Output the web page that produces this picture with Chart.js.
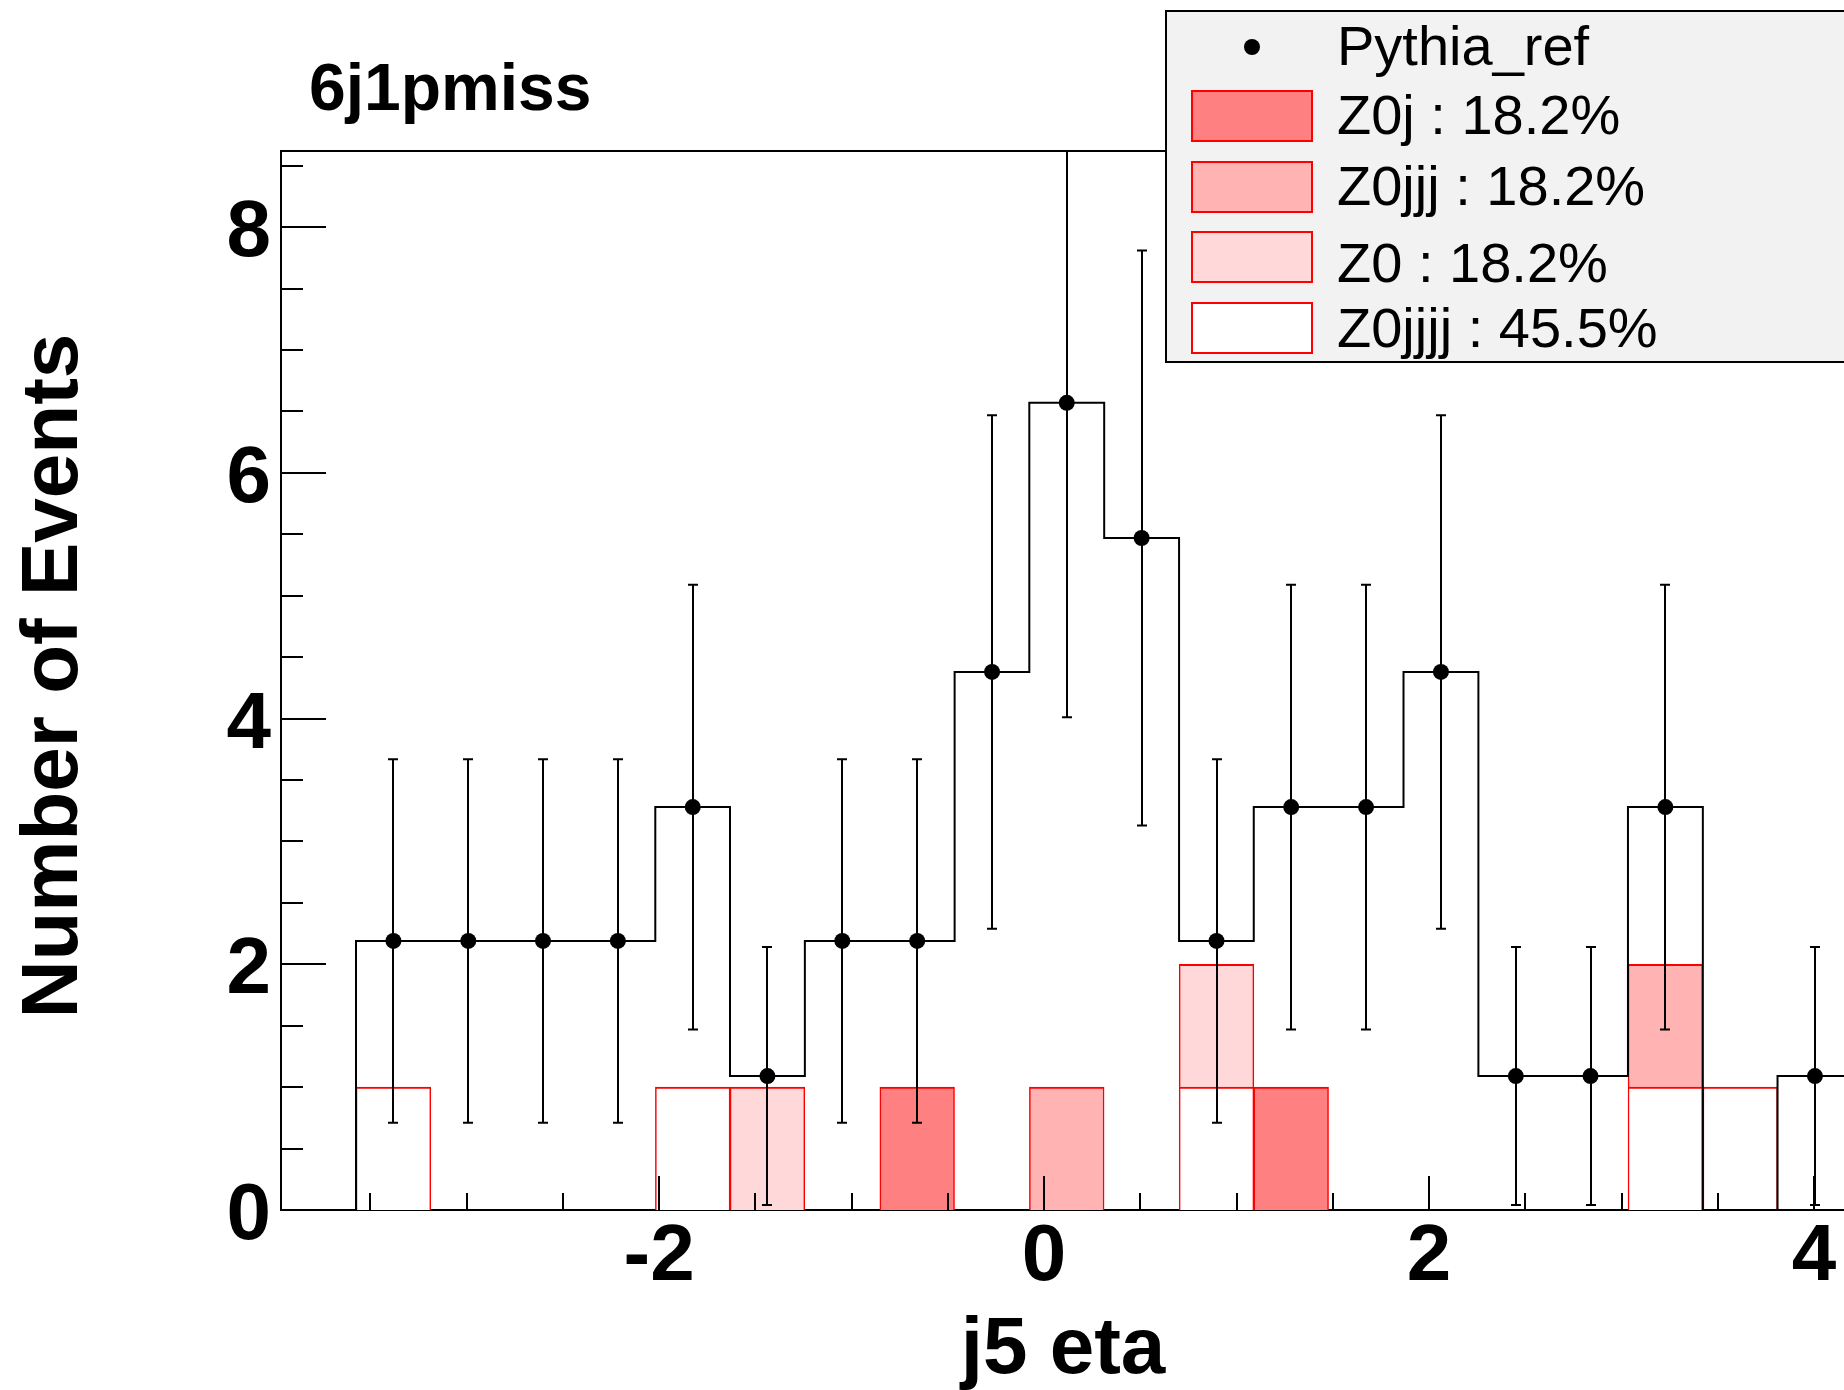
<!DOCTYPE html>
<html>
<head>
<meta charset="utf-8">
<title>j5 eta - 6j1pmiss</title>
<script src="https://cdn.jsdelivr.net/npm/chart.js@4.4.1/dist/chart.umd.min.js"></script>
<style>
  html, body { margin: 0; padding: 0; background: #fff; overflow: hidden; }
  #wrap { width: 1844px; height: 1390px; overflow: hidden; }
  canvas { display: block; }
</style>
</head>
<body>
<div id="wrap"><canvas id="histo" width="1900" height="1390"></canvas></div>
<script>
// ===============================
// DATA
// ===============================

// bin centres of j5 eta
const binCenters = [-3.380, -2.991, -2.603, -2.214, -1.825, -1.437, -1.048, -0.659, -0.270, 0.118,
                    0.507, 0.896, 1.284, 1.673, 2.062, 2.451, 2.839, 3.228, 3.617, 4.005];

// Pythia_ref, weighted events + error per bin
const pythiaValues = [2.19, 2.19, 2.19, 2.19, 3.28, 1.09, 2.19, 2.19, 4.38, 6.57,
                      5.47, 2.19, 3.28, 3.28, 4.38, 1.09, 1.09, 3.28, 0, 1.09];
const pythiaErrors = [1.48, 1.48, 1.48, 1.48, 1.81, 1.05, 1.48, 1.48, 2.09, 2.56,
                      2.34, 1.48, 1.81, 1.81, 2.09, 1.05, 1.05, 1.81, 0, 1.05];

// stacked MC samples (stack bottom -> top)
const z0jjjjValues = [1, 0, 0, 0, 1, 0, 0, 0, 0, 0, 0, 1, 0, 0, 0, 0, 0, 1, 1, 0];
const z0Values     = [0, 0, 0, 0, 0, 1, 0, 0, 0, 0, 0, 1, 0, 0, 0, 0, 0, 0, 0, 0];
const z0jjjValues  = [0, 0, 0, 0, 0, 0, 0, 0, 0, 1, 0, 0, 0, 0, 0, 0, 0, 1, 0, 0];
const z0jValues    = [0, 0, 0, 0, 0, 0, 0, 1, 0, 0, 0, 0, 1, 0, 0, 0, 0, 0, 0, 0];

// legend order (top -> bottom)
const sampleNames   = ["Z0j", "Z0jjj", "Z0", "Z0jjjj"];
const samplePercent = [18.2, 18.2, 18.2, 45.5];
const sampleColors  = ["#ff8080", "#ffb3b3", "#ffd9d9", "#ffffff"];

const xTickValues = [-2, 0, 2, 4];
const yTickValues = [0, 2, 4, 6, 8];
const xRange = [-3.964, 4.2];
const yRange = [0, 8.62];

const FONT = '"Liberation Sans", Arial, Helvetica, sans-serif';

// ===============================
// HELPERS
// ===============================

function toPoints(values) {
  return binCenters.map((c, i) => ({ x: c, y: values[i] }));
}

// black histogram outline, corners from bin edges
function buildStepOutline() {
  const half = (binCenters[1] - binCenters[0]) / 2;
  const pts = [{ x: xRange[0], y: 0 }];
  binCenters.forEach((c, i) => {
    pts.push({ x: c - half, y: i === 0 ? 0 : pythiaValues[i - 1] });
    pts.push({ x: c - half, y: pythiaValues[i] });
  });
  const last = binCenters.length - 1;
  pts.push({ x: binCenters[last] + half, y: pythiaValues[last] });
  pts.push({ x: binCenters[last] + half, y: 0 });
  pts.push({ x: xRange[1], y: 0 });
  return pts;
}

function barSet(label, values, color) {
  return {
    type: "bar",
    label: label,
    data: toPoints(values),
    stack: "mc",
    backgroundColor: color,
    borderColor: "#ff0000",
    borderWidth: { top: 2, left: 1.5, right: 1.5, bottom: 0 },
    borderSkipped: false,
    barPercentage: 1,
    categoryPercentage: 1
  };
}

// ===============================
// PLUGINS
// ===============================

const errorBars = {
  id: "errorBars",
  afterDatasetsDraw(chart) {
    const { ctx, chartArea, scales: { x, y } } = chart;
    ctx.save();
    ctx.beginPath();
    ctx.rect(chartArea.left, chartArea.top, chartArea.width, chartArea.height);
    ctx.clip();
    ctx.strokeStyle = "#000";
    ctx.lineWidth = 2;
    binCenters.forEach((c, i) => {
      if (pythiaValues[i] <= 0) return;
      const px = Math.round(x.getPixelForValue(c));
      const top = y.getPixelForValue(pythiaValues[i] + pythiaErrors[i]);
      const bot = y.getPixelForValue(pythiaValues[i] - pythiaErrors[i]);
      ctx.beginPath();
      ctx.moveTo(px, top); ctx.lineTo(px, bot);
      ctx.moveTo(px - 5, top); ctx.lineTo(px + 5, top);
      ctx.moveTo(px - 5, bot); ctx.lineTo(px + 5, bot);
      ctx.stroke();
    });
    ctx.restore();
  }
};

const rootDecor = {
  id: "rootDecor",
  afterDraw(chart) {
    const { ctx, chartArea, scales: { x, y } } = chart;
    ctx.save();
    ctx.strokeStyle = "#000";
    ctx.lineWidth = 2;

    // frame top line
    ctx.beginPath();
    ctx.moveTo(chartArea.left, chartArea.top);
    ctx.lineTo(chartArea.right, chartArea.top);
    ctx.stroke();

    // inward ticks, y axis
    ctx.beginPath();
    for (let v = 0; v <= yRange[1]; v += 0.5) {
      const py = Math.round(y.getPixelForValue(v));
      const len = yTickValues.includes(v) ? 45 : 22;
      ctx.moveTo(chartArea.left, py);
      ctx.lineTo(chartArea.left + len, py);
    }
    // inward ticks, x axis
    for (let v = -3.5; v <= xRange[1]; v += 0.5) {
      const px = Math.round(x.getPixelForValue(v));
      const len = xTickValues.includes(v) ? 34 : 17;
      ctx.moveTo(px, chartArea.bottom);
      ctx.lineTo(px, chartArea.bottom - len);
    }
    ctx.stroke();

    // titles
    ctx.fillStyle = "#000";
    ctx.textAlign = "left";
    ctx.textBaseline = "alphabetic";
    ctx.font = "bold 66px " + FONT;
    ctx.fillText("6j1pmiss", 309, 110);

    ctx.font = "bold 80px " + FONT;
    ctx.textAlign = "center";
    ctx.fillText("j5 eta", 1063, 1373);

    ctx.save();
    ctx.translate(77, 676);
    ctx.rotate(-Math.PI / 2);
    ctx.fillText("Number of Events", 0, 0);
    ctx.restore();

    // legend box
    ctx.fillStyle = "#f2f2f2";
    ctx.fillRect(1166, 11, 760, 351);
    ctx.strokeRect(1166, 11, 760, 351);

    ctx.fillStyle = "#000";
    ctx.beginPath();
    ctx.arc(1252, 47, 8, 0, Math.PI * 2);
    ctx.fill();

    ctx.textAlign = "left";
    ctx.font = "56px " + FONT;
    ctx.fillText("Pythia_ref", 1337, 65);

    const boxTops = [91, 162, 232, 303];
    const textBase = [134, 205, 282, 347];
    sampleNames.forEach((name, i) => {
      ctx.fillStyle = sampleColors[i];
      ctx.fillRect(1192, boxTops[i], 120, 50);
      ctx.strokeStyle = "#ff0000";
      ctx.strokeRect(1192, boxTops[i], 120, 50);
      ctx.fillStyle = "#000";
      ctx.fillText(name + " : " + samplePercent[i].toFixed(1) + "%", 1337, textBase[i]);
    });

    ctx.restore();
  }
};

// ===============================
// CHART
// ===============================

document.addEventListener("DOMContentLoaded", () => {
  const tickFont = { family: FONT, size: 80, weight: "bold" };

  new Chart(document.getElementById("histo"), {
    data: {
      datasets: [
        {
          type: "line",
          label: "Pythia_ref",
          data: binCenters.map((c, i) => ({ x: c, y: pythiaValues[i] })).filter(p => p.y > 0),
          showLine: false,
          pointRadius: 8,
          pointBackgroundColor: "#000",
          pointBorderWidth: 0
        },
        {
          type: "line",
          label: "outline",
          data: buildStepOutline(),
          borderColor: "#000",
          borderWidth: 2,
          pointRadius: 0,
          tension: 0,
          fill: false
        },
        barSet("Z0jjjj", z0jjjjValues, sampleColors[3]),
        barSet("Z0", z0Values, sampleColors[2]),
        barSet("Z0jjj", z0jjjValues, sampleColors[1]),
        barSet("Z0j", z0jValues, sampleColors[0])
      ]
    },
    options: {
      responsive: false,
      animation: false,
      events: [],
      layout: { padding: { top: 151, right: 47.5, left: 0, bottom: 0 } },
      plugins: {
        legend: { display: false },
        tooltip: { enabled: false },
        title: { display: false }
      },
      scales: {
        x: {
          type: "linear",
          offset: false,
          min: xRange[0],
          max: xRange[1],
          grid: { display: false, drawTicks: false, offset: false },
          border: { display: true, color: "#000", width: 2 },
          ticks: { font: tickFont, color: "#000", padding: 0, maxRotation: 0, includeBounds: false },
          afterBuildTicks: s => { s.ticks = xTickValues.map(v => ({ value: v })); },
          afterFit: s => { s.height = 1390 - 1210; }
        },
        y: {
          type: "linear",
          min: yRange[0],
          max: yRange[1],
          grid: { display: false, drawTicks: false },
          border: { display: true, color: "#000", width: 2 },
          ticks: { font: tickFont, color: "#000", padding: 10, labelOffset: 7, includeBounds: false },
          afterBuildTicks: s => { s.ticks = yTickValues.map(v => ({ value: v })); },
          afterFit: s => { s.width = 281; }
        }
      }
    },
    plugins: [errorBars, rootDecor]
  });
});
</script>
</body>
</html>
